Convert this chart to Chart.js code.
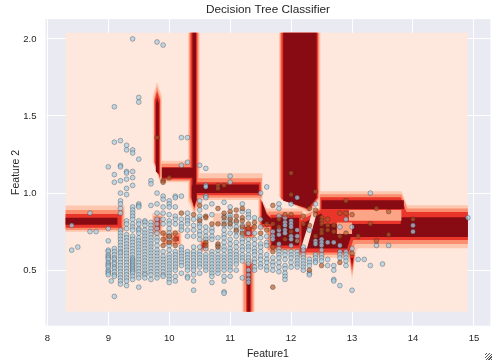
<!DOCTYPE html>
<html>
<head>
<meta charset="utf-8">
<style>
  html, body { margin: 0; padding: 0; background: #fff; }
  #wrap { position: relative; width: 492px; height: 360px; overflow: hidden; }
  #grip { position: absolute; right: 0; bottom: 0; width: 7px; height: 7px;
    background: repeating-linear-gradient(135deg, transparent 0 1px, #555 1px 2px); }
</style>
<script src="https://cdn.jsdelivr.net/npm/chart.js@4"></script>
</head>
<body>
<div id="wrap">
  <canvas id="tree" width="495" height="360"></canvas>
  <div id="grip"></div>
</div>
<script>
const xTicks = [8, 9, 10, 11, 12, 13, 14, 15];
const yTicks = [0.5, 1.0, 1.5, 2.0];

// decision regions, outer band first. four numbers = rectangle corners, more = polygon
const paleShapes = [[8.3, 0.23, 14.9, 2.04]];
const lightShapes = [
  [8.3, 0.75, 9.27, 0.92],
  [10.31, 1.0, 10.5, 2.04],
  [9.73, 1.2, 9.73, 1.63, 9.8, 1.72, 9.88, 1.63, 9.88, 1.07, 9.85, 1.07],
  [9.85, 1.07, 10.4, 1.21],
  [10.4, 0.955, 11.53, 1.128],
  [10.31, 1.0, 10.5, 1.0, 10.5, 0.93, 10.41, 0.86, 10.31, 0.95],
  [11.46, 0.76, 11.46, 1.0, 11.6, 0.9, 11.78, 0.8, 11.82, 0.76],
  [11.8, 2.04, 12.48, 2.04, 12.48, 0.97, 12.3, 0.86, 11.8, 0.98],
  [11.6, 0.62, 12.2, 0.9],
  [12.1, 0.58, 13.0, 0.58, 13.1, 0.643, 13.9, 0.643, 13.93, 0.9, 13.81, 1.012, 12.45, 1.012, 12.45, 0.9, 12.1, 0.85],
  [13.8, 0.643, 14.9, 0.921],
  [12.93, 0.62, 13.07, 0.62, 13.0, 0.44],
  [10.5, 0.62, 10.65, 0.71],
  [9.72, 0.72, 9.89, 0.87],
  [9.88, 0.66, 10.2, 0.76],
  [11.2, 0.7, 11.42, 0.8],
  [11.2, 0.23, 11.4, 0.57],
  [10.72, 0.79, 10.85, 0.87]
];
const salmonShapes = [
  [8.3, 0.76, 9.25, 0.89],
  [10.33, 1.0, 10.48, 2.04],
  [9.75, 1.2, 9.75, 1.61, 9.8, 1.69, 9.86, 1.61, 9.86, 1.08, 9.88, 1.08],
  [9.87, 1.08, 10.4, 1.19],
  [10.4, 0.97, 11.52, 1.096],
  [10.33, 1.0, 10.48, 1.0, 10.48, 0.95, 10.41, 0.88, 10.33, 0.97],
  [11.48, 0.77, 11.48, 0.98, 11.6, 0.88, 11.76, 0.8, 11.8, 0.77],
  [11.82, 2.04, 12.46, 2.04, 12.46, 0.97, 12.3, 0.88, 11.82, 0.97],
  [11.62, 0.63, 12.18, 0.88],
  [12.12, 0.6, 12.98, 0.6, 13.05, 0.67, 13.88, 0.67, 13.91, 0.9, 13.81, 0.993, 12.47, 0.993, 12.47, 0.9, 12.12, 0.84],
  [13.8, 0.67, 14.9, 0.9],
  [12.95, 0.6, 13.05, 0.6, 13.0, 0.47],
  [10.52, 0.63, 10.63, 0.69],
  [9.74, 0.74, 9.87, 0.85],
  [9.9, 0.67, 10.18, 0.74],
  [11.22, 0.71, 11.4, 0.79],
  [11.22, 0.23, 11.38, 0.55]
];
const redShapes = [
  [8.3, 0.775, 9.22, 0.865],
  [10.35, 1.0, 10.46, 2.04],
  [9.76, 1.2, 9.76, 1.6, 9.8, 1.66, 9.85, 1.6, 9.85, 1.09],
  [9.88, 1.09, 10.4, 1.17],
  [10.4, 0.986, 11.5, 1.07],
  [10.35, 1.0, 10.46, 1.0, 10.46, 0.96, 10.41, 0.9, 10.35, 0.98],
  [11.5, 0.78, 11.5, 0.96, 11.6, 0.87, 11.74, 0.81, 11.78, 0.78],
  [11.84, 2.04, 12.44, 2.04, 12.44, 0.97, 12.3, 0.89, 11.84, 0.96],
  [11.66, 0.64, 12.16, 0.86],
  [12.14, 0.615, 12.95, 0.615, 13.02, 0.696, 13.85, 0.696, 13.89, 0.88, 13.8, 0.973, 12.48, 0.973, 12.48, 0.89, 12.14, 0.82],
  [13.8, 0.696, 14.9, 0.877],
  [12.96, 0.6, 13.04, 0.6, 13.0, 0.5],
  [10.53, 0.64, 10.61, 0.68],
  [9.77, 0.76, 9.85, 0.84],
  [10.08, 0.69, 10.16, 0.72],
  [11.26, 0.23, 11.35, 0.54],
  [11.24, 0.72, 11.36, 0.78]
];
const darkShapes = [
  [8.3, 0.795, 9.15, 0.84],
  [10.38, 1.0, 10.44, 2.04],
  [9.78, 1.14, 9.78, 1.58, 9.8, 1.62, 9.83, 1.58, 9.83, 1.12],
  [9.88, 1.1, 10.4, 1.165],
  [10.4, 1.0, 11.47, 1.055],
  [10.37, 1.05, 10.45, 1.05, 10.45, 0.96, 10.41, 0.91, 10.37, 0.96],
  [11.52, 0.8, 11.52, 0.95, 11.6, 0.86, 11.72, 0.82, 11.76, 0.8],
  [11.87, 2.04, 12.42, 2.04, 12.42, 0.97, 12.28, 0.9, 11.87, 0.95],
  [11.68, 0.66, 12.13, 0.84],
  [12.17, 0.64, 12.92, 0.64, 12.98, 0.715, 13.82, 0.715, 13.86, 0.8, 13.82, 0.8, 12.5, 0.8, 12.5, 0.87, 12.17, 0.8],
  [12.5, 0.897, 13.85, 0.954],
  [13.8, 0.715, 14.9, 0.843],
  [12.98, 0.58, 13.02, 0.58, 13.0, 0.53],
  [11.28, 0.23, 11.33, 0.5]
];
// lighter parts cut back through the dark ones
const stripShapes = [
  [12.75, 0.735, 13.0, 0.81],
  [12.95, 0.82, 13.81, 0.89]
];
const wedgeShapes = [
  [12.16, 0.64, 12.26, 0.64, 12.42, 0.87, 12.34, 0.87]
];

const blueColX = [8.4, 8.5, 8.7, 8.8, 9.0, 9.05, 9.1, 9.2, 9.3, 9.4, 9.5, 9.6, 9.7, 9.8, 9.9, 10.0, 10.1, 10.2, 10.3, 10.4, 10.5, 10.6, 10.7, 10.8, 10.9, 11.0, 11.1, 11.2, 11.3, 11.4, 11.5, 11.6, 11.7, 11.8, 11.9, 12.0, 12.1, 12.2, 12.3, 12.4, 12.5, 12.6, 12.7, 12.8, 12.9, 13.0, 13.1, 13.2, 13.3, 13.4, 13.5, 13.6, 14.0, 14.9];
const blueColY = [
  [0.79, 0.63], [0.65], [0.87, 0.75], [0.75],
  [1.17, 0.77, 0.69, 0.63, 0.62, 0.6, 0.59, 0.58, 0.57, 0.55, 0.54, 0.53, 0.52, 0.5, 0.49, 0.48, 0.47],
  [0.43],
  [1.56, 1.33, 1.12, 1.07, 0.64, 0.62, 0.6, 0.58, 0.57, 0.55, 0.54, 0.52, 0.51, 0.49, 0.47, 0.46, 0.33],
  [1.34, 1.18, 1.17, 1.08, 1.0, 0.95, 0.93, 0.9, 0.87, 0.76, 0.74, 0.72, 0.7, 0.68, 0.66, 0.64, 0.62, 0.61, 0.59, 0.57, 0.55, 0.53, 0.51, 0.49, 0.47, 0.45, 0.43, 0.41],
  [1.31, 1.28, 1.14, 1.13, 1.09, 1.03, 0.99, 0.82, 0.8, 0.77, 0.73, 0.71, 0.69, 0.67, 0.65, 0.63, 0.61, 0.59, 0.57, 0.55, 0.53, 0.51, 0.49, 0.47, 0.45, 0.43, 0.4],
  [2.0, 1.28, 1.26, 1.14, 1.1, 1.05, 0.91, 0.89, 0.87, 0.85, 0.83, 0.8, 0.78, 0.76, 0.72, 0.7, 0.68, 0.66, 0.64, 0.62, 0.6, 0.58, 0.57, 0.56, 0.55, 0.54, 0.53, 0.52, 0.51, 0.5, 0.49, 0.48, 0.46, 0.44],
  [1.62, 1.59, 1.22, 0.93, 0.92, 0.91, 0.82, 0.8, 0.77, 0.76, 0.74, 0.71, 0.69, 0.67, 0.65, 0.63, 0.61, 0.59, 0.57, 0.55, 0.53, 0.51, 0.49, 0.47, 0.45, 0.39],
  [0.82, 0.81, 0.79, 0.76, 0.74, 0.72, 0.7, 0.68, 0.66, 0.64, 0.62, 0.6, 0.58, 0.56, 0.54, 0.52, 0.5, 0.48, 0.47, 0.45],
  [1.08, 1.06, 0.92, 0.81, 0.79, 0.77, 0.75, 0.73, 0.71, 0.69, 0.67, 0.65, 0.63, 0.61, 0.59, 0.57, 0.55, 0.53, 0.51, 0.49, 0.47, 0.44],
  [1.98, 1.0, 0.93, 0.87, 0.83, 0.8, 0.77, 0.74, 0.71, 0.69, 0.66, 0.63, 0.61, 0.59, 0.57, 0.55, 0.53, 0.51, 0.49, 0.47, 0.45],
  [1.96, 0.98, 0.96, 0.91, 0.87, 0.83, 0.8, 0.62, 0.59, 0.57, 0.55, 0.53, 0.51, 0.49, 0.47, 0.46],
  [0.95, 0.93, 0.91, 0.86, 0.82, 0.8, 0.77, 0.74, 0.72, 0.7, 0.66, 0.63, 0.6, 0.58, 0.56, 0.54, 0.52, 0.5, 0.48, 0.46, 0.44, 0.42],
  [0.98, 0.97, 0.91, 0.85, 0.83, 0.8, 0.62, 0.6, 0.58, 0.56, 0.54, 0.52, 0.5, 0.46, 0.43],
  [1.36, 1.18, 0.98, 0.83, 0.8, 0.78, 0.76, 0.65, 0.63, 0.61, 0.59, 0.57, 0.55, 0.53, 0.48],
  [1.36, 1.2, 0.87, 0.84, 0.82, 0.8, 0.76, 0.72, 0.62, 0.6, 0.58, 0.56, 0.54, 0.52, 0.5, 0.46, 0.45],
  [0.83, 0.79, 0.76, 0.72, 0.65, 0.62, 0.6, 0.58, 0.56, 0.54, 0.52, 0.5, 0.47, 0.43, 0.37],
  [1.18, 0.95, 0.89, 0.85, 0.83, 0.8, 0.78, 0.75, 0.73, 0.7, 0.65, 0.62, 0.6, 0.58, 0.56, 0.54, 0.52, 0.48],
  [1.16, 1.05, 1.04, 0.98, 0.97, 0.91, 0.78, 0.75, 0.72, 0.7, 0.64, 0.6, 0.58, 0.56, 0.54, 0.52, 0.5],
  [0.93, 0.86, 0.77, 0.75, 0.72, 0.7, 0.62, 0.6, 0.58, 0.56, 0.54, 0.52, 0.5, 0.48, 0.46, 0.42],
  [0.71, 0.66, 0.63, 0.6, 0.58, 0.56, 0.54, 0.52, 0.5, 0.48],
  [0.94, 0.85, 0.82, 0.79, 0.76, 0.73, 0.71, 0.68, 0.65, 0.63, 0.6, 0.58, 0.56, 0.54, 0.52, 0.5, 0.46, 0.43, 0.36, 0.35],
  [1.11, 1.07, 0.91, 0.86, 0.84, 0.81, 0.78, 0.74, 0.7, 0.67, 0.64, 0.62, 0.6, 0.58, 0.56, 0.54, 0.52, 0.5, 0.46],
  [0.81, 0.78, 0.75, 0.72, 0.68, 0.65, 0.62, 0.6, 0.58, 0.56, 0.54, 0.5],
  [0.93, 0.88, 0.79, 0.76, 0.73, 0.7, 0.68, 0.65, 0.63, 0.6, 0.58, 0.56, 0.45],
  [0.88, 0.86, 0.84, 0.74, 0.7, 0.67, 0.65, 0.63, 0.6, 0.58, 0.56, 0.54, 0.5, 0.47, 0.44, 0.42],
  [0.84, 0.74, 0.7, 0.67, 0.64, 0.62, 0.6, 0.57, 0.55, 0.52, 0.5],
  [1.0, 0.83, 0.78, 0.71, 0.67, 0.65, 0.62, 0.59, 0.57, 0.54, 0.52],
  [1.04, 0.72, 0.68, 0.66, 0.6, 0.57, 0.55, 0.52, 0.5],
  [0.75, 0.72, 0.7, 0.58, 0.55, 0.53, 0.5],
  [0.93, 0.9, 0.85, 0.76, 0.73, 0.67, 0.64, 0.62, 0.6, 0.58, 0.55, 0.52, 0.49],
  [0.84, 0.81, 0.79, 0.76, 0.74, 0.62, 0.6, 0.57, 0.53, 0.51, 0.48, 0.46, 0.44],
  [0.93, 0.82, 0.8, 0.78, 0.72, 0.7, 0.66, 0.62, 0.6, 0.58, 0.55, 0.52],
  [0.97, 0.76, 0.72, 0.69, 0.62, 0.6, 0.58, 0.56, 0.54, 0.52],
  [0.65, 0.63, 0.6, 0.58, 0.56, 0.54, 0.52, 0.5],
  [0.76, 0.57, 0.55, 0.53, 0.48, 0.47],
  [0.93, 0.69, 0.67, 0.6, 0.58, 0.56, 0.55],
  [0.7, 0.68, 0.66, 0.63, 0.6, 0.58, 0.56],
  [0.68, 0.57, 0.53],
  [0.68, 0.53, 0.5, 0.44, 0.43],
  [0.78, 0.66, 0.62, 0.6, 0.58, 0.4],
  [0.83, 0.62, 0.6, 0.58, 0.56, 0.53],
  [0.78, 0.64, 0.37],
  [0.57], [0.57], [1.0, 0.53], [0.66], [0.54], [0.66], [0.79, 0.75], [0.84]
];

const brownX = [9.8, 9.9, 9.9, 9.9, 9.9, 9.9, 10.0, 10.0, 10.0, 10.1, 10.1, 10.1, 10.2, 10.4, 10.5, 10.5, 10.6, 10.6, 10.6, 10.6, 10.7, 10.8, 10.8, 10.8, 10.8, 10.8, 10.8, 10.9, 10.9, 10.9, 10.9, 11.0, 11.0, 11.0, 11.1, 11.1, 11.1, 11.1, 11.2, 11.2, 11.2, 11.2, 11.2, 11.3, 11.3, 11.4, 11.4, 11.5, 11.6, 11.6, 11.7, 11.7, 11.7, 11.7, 11.7, 11.8, 11.8, 11.9, 11.9, 12.0, 12.0, 12.0, 12.0, 12.1, 12.2, 12.2, 12.3, 12.3, 12.3, 12.4, 12.4, 12.4, 12.4, 12.5, 12.5, 12.5, 12.5, 12.5, 12.5, 12.6, 12.6, 12.6, 12.7, 12.7, 12.8, 12.8, 12.8, 12.9, 12.9, 12.9, 13.0, 13.0, 13.1, 13.3, 13.4, 13.4, 13.6, 13.6, 14.0];
const brownY = [1.36, 1.08, 1.07, 0.74, 0.7, 0.66, 1.1, 0.72, 0.68, 0.74, 0.7, 0.66, 0.87, 0.86, 0.92, 0.82, 0.85, 0.84, 0.68, 0.66, 0.8, 1.05, 1.03, 0.9, 0.8, 0.67, 0.65, 1.05, 0.87, 0.84, 0.8, 0.88, 0.83, 0.8, 0.89, 0.85, 0.82, 0.76, 0.9, 0.84, 0.82, 0.78, 0.74, 0.8, 0.77, 0.81, 0.78, 0.74, 0.8, 0.76, 0.92, 0.8, 0.65, 0.62, 0.39, 0.83, 0.78, 0.86, 0.7, 1.13, 0.99, 0.86, 0.75, 0.69, 0.85, 0.8, 0.9, 0.79, 0.5, 1.01, 0.89, 0.86, 0.72, 0.84, 0.82, 0.8, 0.76, 0.74, 0.53, 0.83, 0.79, 0.76, 0.79, 0.75, 0.87, 0.72, 0.55, 0.95, 0.87, 0.74, 0.86, 0.61, 0.72, 0.8, 0.9, 0.69, 0.88, 0.73, 0.83];

function toPoints(v) {
  if (v.length === 4) {
    v = [v[0], v[1], v[2], v[1], v[2], v[3], v[0], v[3]];
  }
  const pts = [];
  for (let i = 0; i < v.length; i += 2) {
    pts.push({ x: v[i], y: v[i + 1] });
  }
  return pts;
}

function shapeSets(list, color) {
  return list.map(v => ({
    type: "scatter",
    data: toPoints(v),
    showLine: true,
    fill: "shape",
    backgroundColor: color,
    borderWidth: 0,
    pointRadius: 0,
    tension: 0
  }));
}

const bluePoints = [];
blueColX.forEach((x, i) => {
  blueColY[i].forEach(y => bluePoints.push({ x: x, y: y }));
});
const brownPoints = brownX.map((x, i) => ({ x: x, y: brownY[i] }));

const grid = { color: "#ffffff", lineWidth: 1, drawTicks: false };
const tickFont = { family: "'Liberation Sans', Arial, sans-serif", size: 9.5 };
const labelFont = { family: "'Liberation Sans', Arial, sans-serif", size: 10.5 };

const bgPlugin = {
  id: "axesBg",
  beforeDraw(chart) {
    const a = chart.chartArea;
    chart.ctx.fillStyle = "#e9eaf2";
    chart.ctx.fillRect(a.left, a.top, a.right - a.left, a.bottom - a.top);
  }
};

// chart.js paints the first dataset last, so the list runs top layer to bottom
const layers = [
  {
    data: brownPoints,
    backgroundColor: "rgba(177,89,40,0.65)",
    borderColor: "rgba(30,30,30,0.55)",
    borderWidth: 0.6,
    pointRadius: 2.4
  },
  {
    data: bluePoints,
    backgroundColor: "rgba(166,206,227,0.72)",
    borderColor: "rgba(30,40,45,0.55)",
    borderWidth: 0.6,
    pointRadius: 2.4
  },
  ...shapeSets(wedgeShapes, "#fee0d2"),
  ...shapeSets(stripShapes, "#fca486"),
  ...shapeSets(darkShapes, "#880a12"),
  ...shapeSets(redShapes, "#e9352a"),
  ...shapeSets(salmonShapes, "#fb8e6e"),
  ...shapeSets(lightShapes, "#fdc6ae"),
  ...shapeSets(paleShapes, "#fee8de")
];

new Chart(document.getElementById("tree"), {
  type: "scatter",
  plugins: [bgPlugin],
  data: { datasets: layers },
  options: {
    responsive: false,
    animation: false,
    events: [],
    plugins: {
      legend: { display: false },
      tooltip: { enabled: false },
      title: {
        display: true,
        text: "Decision Tree Classifier",
        fullSize: false,
        color: "#262626",
        font: { family: "'Liberation Sans', Arial, sans-serif", size: 11.8, weight: "normal" },
        padding: { top: 3, bottom: 2 }
      }
    },
    scales: {
      x: {
        type: "linear",
        min: 7.97,
        max: 15.27,
        grid: grid,
        border: { display: false },
        afterBuildTicks: s => { s.ticks = xTicks.map(v => ({ value: v })); },
        afterFit: s => { s.height = 34.3; s.paddingRight = 0; s.paddingLeft = 0; },
        ticks: { color: "#262626", font: tickFont, padding: 7, maxRotation: 0, callback: v => String(v) },
        title: { display: true, text: "Feature1", color: "#262626", font: labelFont, padding: { top: 2, bottom: 0 } }
      },
      y: {
        type: "linear",
        min: 0.14,
        max: 2.128,
        grid: grid,
        border: { display: false },
        afterBuildTicks: s => { s.ticks = yTicks.map(v => ({ value: v })); },
        afterFit: s => { s.width = 45.5; },
        ticks: { color: "#262626", font: tickFont, padding: 9, callback: v => v.toFixed(1) },
        title: { display: true, text: "Feature 2", color: "#262626", font: labelFont, padding: { top: 10, bottom: 0 } }
      }
    }
  }
});
</script>
</body>
</html>
